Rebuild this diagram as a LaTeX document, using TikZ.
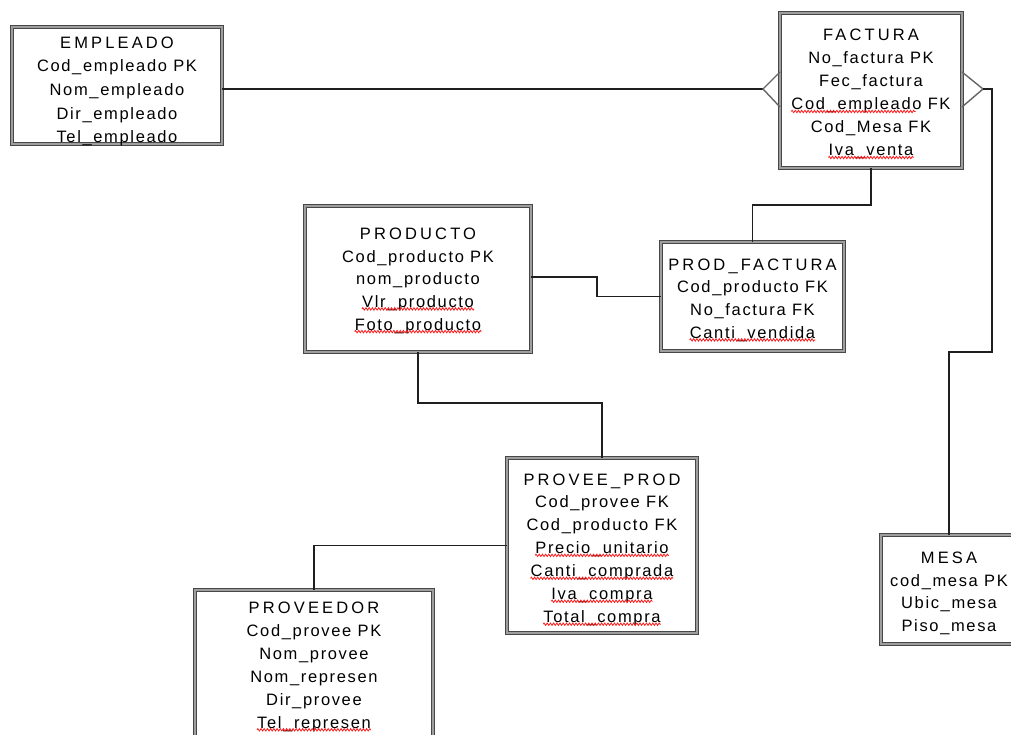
\documentclass[tikz,border=0pt]{standalone}
\usepackage{fontspec}
\usetikzlibrary{calc,decorations.pathmorphing}
\newfontfamily\fieldfont[LetterSpace=10]{Liberation Sans}
\newfontfamily\titlefont[LetterSpace=19]{Liberation Sans}
% title line and field lines of an entity box
\newcommand\entitytext[5]{%
  \node[entitytitle] (#1-0) at ($(#1.north)+(0,#2)$) {#4};
  \foreach \f [count=\i] in {#5}
    \node[entityfield] (#1-\i) at ($(#1.north)+(0,#2+#3*\i)$) {\f};}
% red spell-check squiggle under a field line (second argument: share of the line covered)
\newcommand\squig[2]{%
  \draw[spellwave] ([yshift=-1.5pt]#1.base west) -- ($([yshift=-1.5pt]#1.base west)!#2!([yshift=-1.5pt]#1.base east)$);}
\tikzset{
  entity/.style={draw=black!72, double=black!38, double distance=2pt, line width=0.9pt,
    fill=white, inner sep=0pt, outer sep=0pt, anchor=north west},
  entitytitle/.style={font=\titlefont\fontsize{16.5}{20}\selectfont, anchor=base, inner sep=0pt},
  entityfield/.style={font=\fieldfont\fontsize{16.5}{20}\selectfont, anchor=base, inner sep=0pt},
  link/.style={draw=black!88, line width=1.8pt},
  crow/.style={draw=black!60, line width=1.4pt},
  spellwave/.style={draw=red!90, line width=0.8pt, decorate,
    decoration={zigzag, segment length=3.2pt, amplitude=1.2pt}},
}
\begin{document}
\begin{tikzpicture}[x=1pt,y=-1pt]
\useasboundingbox (0,0) rectangle (1011,735);
\clip (0,0) rectangle (1011,735);
\fill[white] (0,0) rectangle (1011,735);

% entity boxes
\node[entity, minimum width=210pt, minimum height=117pt] (emp)  at (12,27)  {};
\node[entity, minimum width=182pt, minimum height=155pt] (fac)  at (780,13) {};
\node[entity, minimum width=226pt, minimum height=146pt] (prod) at (305,206) {};
\node[entity, minimum width=183pt, minimum height=109pt] (pf)   at (661,242) {};
\node[entity, minimum width=190pt, minimum height=175pt] (pp)   at (507,458) {};
\node[entity, minimum width=238pt, minimum height=170pt] (prv)  at (195,590) {};
\node[entity, minimum width=136pt, minimum height=109pt] (mesa) at (881,535) {};

% entity texts
\entitytext{emp}{21.3}{23.6}{EMPLEADO}{Cod\_empleado PK, Nom\_empleado, Dir\_empleado, Tel\_empleado}
\entitytext{fac}{28}{23}{FACTURA}{No\_factura PK, Fec\_factura, Cod\_empleado FK, Cod\_Mesa FK, Iva\_venta}
\entitytext{prod}{33.3}{22.7}{PRODUCTO}{Cod\_producto PK, nom\_producto, Vlr\_producto, Foto\_producto}
\entitytext{pf}{28}{22.8}{PROD\_FACTURA}{Cod\_producto FK, No\_factura FK, Canti\_vendida}
\entitytext{pp}{27}{22.95}{PROVEE\_PROD}{Cod\_provee FK, Cod\_producto FK, Precio\_unitario, Canti\_comprada, Iva\_compra, Total\_compra}
\entitytext{prv}{23.3}{23}{PROVEEDOR}{Cod\_provee PK, Nom\_provee, Nom\_represen, Dir\_provee, Tel\_represen}
\entitytext{mesa}{28.3}{22.8}{MESA}{cod\_mesa PK, Ubic\_mesa, Piso\_mesa}

% spell-check marks
\squig{fac-3}{0.78}
\squig{fac-5}{1}
\squig{prod-3}{1}
\squig{prod-4}{1}
\squig{pf-3}{1}
\squig{pp-3}{1}
\squig{pp-4}{1}
\squig{pp-5}{1}
\squig{pp-6}{1}
\squig{prv-5}{1}

% EMPLEADO -- FACTURA (crow's foot at FACTURA)
\coordinate (cfL) at ([xshift=-17pt,yshift=1.5pt]fac.west);
\draw[link] ([yshift=-3.5pt]emp.east) -- (cfL);
\draw[crow] ([yshift=18.5pt]fac.west) -- (cfL) -- ([yshift=-16.5pt]fac.west);

% FACTURA -- MESA (crow's foot at FACTURA)
\coordinate (cfR) at ([xshift=21pt,yshift=1.5pt]fac.east);
\draw[crow] ([yshift=18.5pt]fac.east) -- (cfR) -- ([yshift=-16.5pt]fac.east);
\draw[link] (cfR) -- ++(9,0) |- ([yshift=183pt]mesa.north) -- (mesa.north);

% FACTURA -- PROD_FACTURA
\draw[link] (fac.south) -- ++(0,37) -| (pf.north);

% PRODUCTO -- PROD_FACTURA
\draw[link] ([yshift=2pt]prod.east) -- ++(66,0) |- (pf.west);

% PRODUCTO -- PROVEE_PROD
\draw[link] (prod.south) -- ++(0,51) -| (pp.north);

% PROVEE_PROD -- PROVEEDOR
\draw[link] (pp.west) -| (prv.north);
\end{tikzpicture}
\end{document}
